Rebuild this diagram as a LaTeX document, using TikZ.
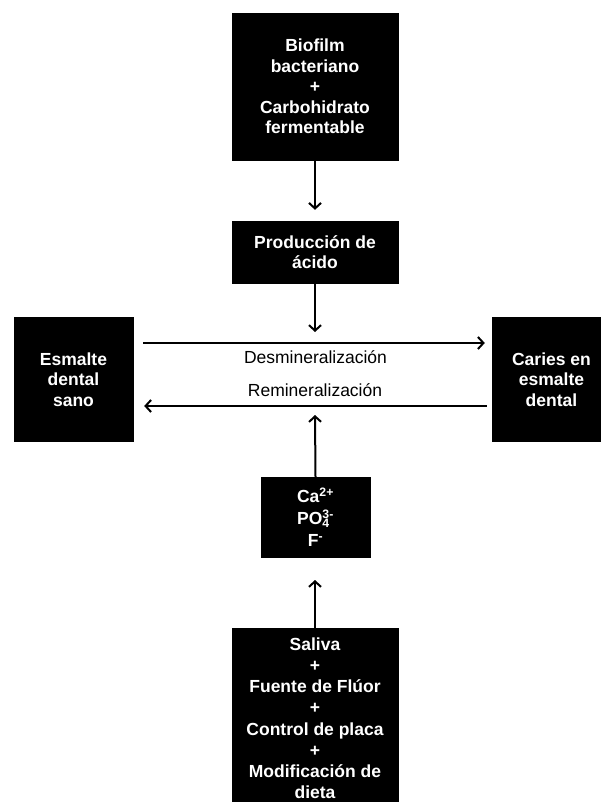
\documentclass[tikz,border=0pt]{standalone}
\usepackage{fontspec}
\setmainfont{Liberation Sans}
\usetikzlibrary{arrows.meta}
\tikzset{
  blackbox/.style={fill=black, draw=black, text=white, align=center, inner sep=0pt,
    font=\fontsize{17.5}{20.5}\selectfont\bfseries},
  arr/.style={line width=2pt, -{Straight Barb[length=5.5pt,width=12pt,line width=2pt]}},
  lbl/.style={font=\fontsize{17.5}{20}\selectfont, anchor=base, inner sep=0pt}
}
\begin{document}
\begin{tikzpicture}[x=1pt,y=-1pt]
\useasboundingbox (0,0) rectangle (600,802);
\node[blackbox, minimum width=166pt, minimum height=147pt] (b1) at (315,86.5)
  {Biofilm\\bacteriano\\+\\Carbohidrato\\fermentable};
\node[blackbox, minimum width=166pt, minimum height=62pt] (b2) at (315,252)
  {Producción de\\ácido};
\node[blackbox, minimum width=119pt, minimum height=124pt] (L) at (73.5,379.5)
  {Esmalte\\dental\\sano};
\node[blackbox, minimum width=119pt, minimum height=124pt] (R) at (551.5,379.5)
  {Caries en\\esmalte\\dental};
\node[blackbox, minimum width=109pt, minimum height=80pt, font=\fontsize{17.5}{22}\selectfont\bfseries] (ca) at (315.5,517)
  {Ca\textsuperscript{2+}\\PO\rlap{\textsubscript{4}}\textsuperscript{3-}\\F\textsuperscript{-}};
\node[blackbox, minimum width=166pt, minimum height=180pt, anchor=north, font=\fontsize{17.5}{21.2}\selectfont\bfseries] (b5) at (315,628)
  {Saliva\\+\\Fuente de Flúor\\+\\Control de placa\\+\\Modificación de\\dieta};
\coordinate (t2) at (315,332);
\coordinate (t3) at (315,415);
\coordinate (t4) at (315,580);
\draw[arr, shorten >=11pt] (b1.south) -- (b2.north);
\draw[arr] (b2.south) -- (t2);
\draw[arr] (ca.north) -- (t3);
\draw[arr] (b5.north) -- (t4);
\draw[arr, shorten <=10pt, shorten >=7pt] ([yshift=36.5pt]L.east) -- ([yshift=36.5pt]R.west);
\draw[arr, shorten <=5pt, shorten >=11pt] ([yshift=-26.5pt]R.west) -- ([yshift=-26.5pt]L.east);
\node[lbl] (dl) at (315.5,363) {Desmineralización};
\node[lbl] (rl) at (315,396) {Remineralización};
\end{tikzpicture}
\end{document}
